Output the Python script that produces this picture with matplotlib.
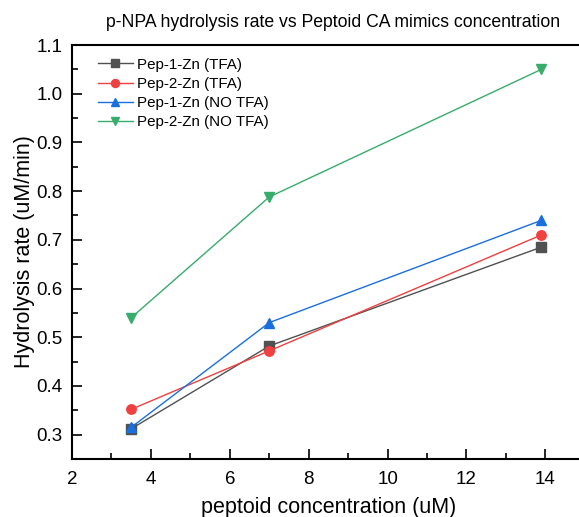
import matplotlib
matplotlib.use("Agg")
import matplotlib.pyplot as plt
from matplotlib.ticker import MultipleLocator

plt.rcParams['font.family'] = ['Liberation Sans', 'DejaVu Sans']

conc = [3.5, 7.0, 13.9]
pep1_tfa = [0.312, 0.482, 0.685]
pep2_tfa = [0.352, 0.472, 0.710]
pep1_notfa = [0.315, 0.530, 0.740]
pep2_notfa = [0.540, 0.788, 1.050]

labels = ["Pep-1-Zn (TFA)", "Pep-2-Zn (TFA)", "Pep-1-Zn (NO TFA)", "Pep-2-Zn (NO TFA)"]
colors = ["#515151", "#F14040", "#1A6FDF", "#37AD6B"]
markers = ["s", "o", "^", "v"]

fig = plt.figure(figsize=(5.79, 5.17), dpi=100)
ax = fig.add_axes([72/579, 58/517, 1 - 72/579 + 0.01, (459-45)/517])

for ys, lab, c, m in zip([pep1_tfa, pep2_tfa, pep1_notfa, pep2_notfa], labels, colors, markers):
    ax.plot(conc, ys, color=c, marker=m, markersize=6.8, linewidth=1.0, label=lab)

ax.set_xlim(2, 15)
ax.set_ylim(0.25, 1.1)
ax.xaxis.set_major_locator(MultipleLocator(2))
ax.xaxis.set_minor_locator(MultipleLocator(1))
ax.yaxis.set_major_locator(MultipleLocator(0.1))
ax.yaxis.set_minor_locator(MultipleLocator(0.05))
ax.tick_params(which='both', direction='in', labelsize=13.5, width=1.2)
ax.tick_params(which='major', length=7)
ax.tick_params(which='minor', length=4)
ax.tick_params(axis='x', pad=9)
ax.tick_params(axis='y', pad=7)
for s in ['left', 'bottom', 'top']:
    ax.spines[s].set_linewidth(1.5)
ax.spines['right'].set_visible(False)

ax.set_xlabel("peptoid concentration (uM)", fontsize=15.5, labelpad=6)
ax.set_ylabel("Hydrolysis rate (uM/min)", fontsize=15.5, labelpad=1)
ax.set_title("p-NPA hydrolysis rate vs Peptoid CA mimics concentration", fontsize=12.7, pad=13, x=(330-72)/507)

leg = ax.legend(loc='upper left', frameon=False, fontsize=10.9, bbox_to_anchor=(0.03, 0.995),
          handlelength=2.3, handletextpad=0.3, labelspacing=0.34, borderaxespad=0.3, markerscale=0.85)

fig.savefig("out.png", dpi=100)
